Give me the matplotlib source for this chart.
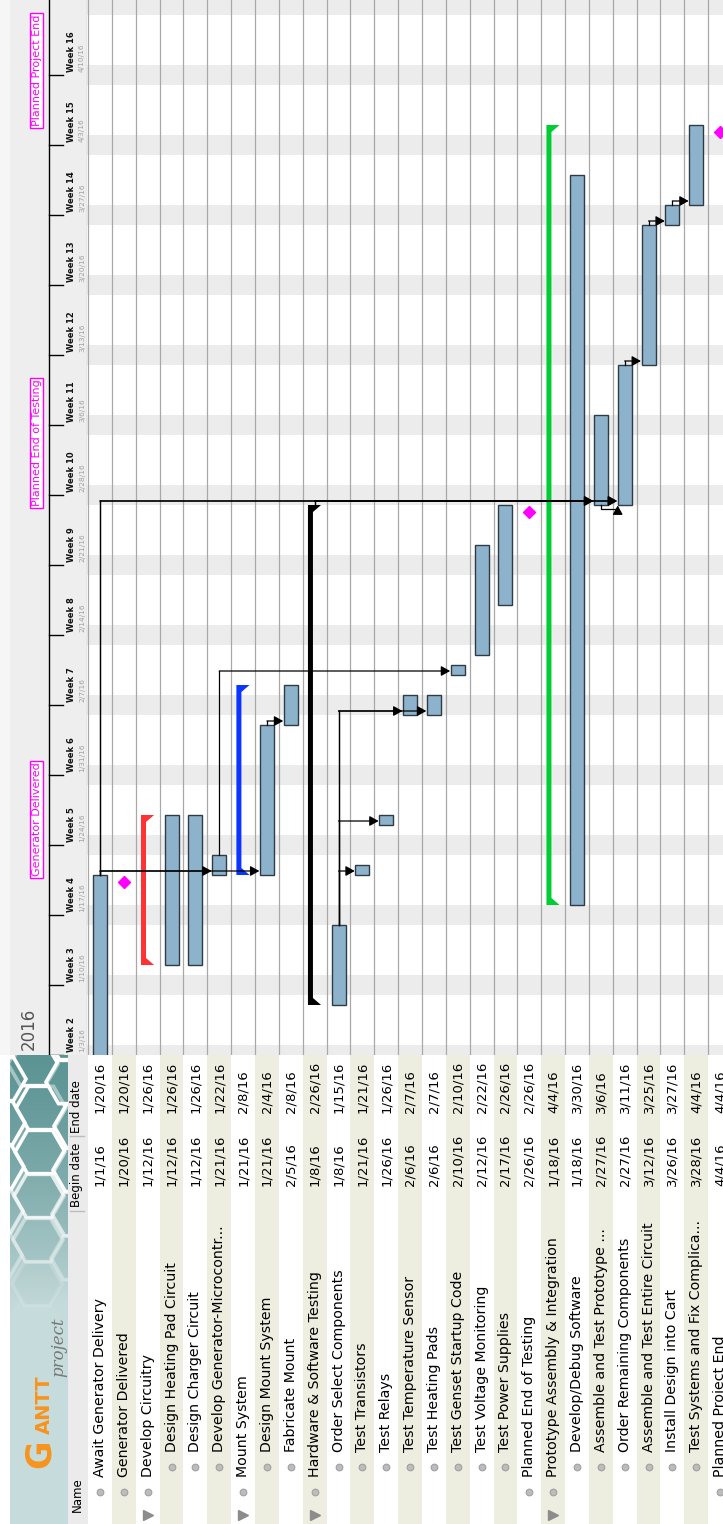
import matplotlib
matplotlib.use("Agg")
import matplotlib.pyplot as plt
import matplotlib.dates as mdates
from matplotlib.patches import Polygon, RegularPolygon
import numpy as np
from datetime import date, timedelta

# =========================
# DATA
# =========================
TASKS = ["Await Generator Delivery", "Generator Delivered", "Develop Circuitry",
         "Design Heating Pad Circuit", "Design Charger Circuit", "Develop Generator-Microcontr...",
         "Mount System", "Design Mount System", "Fabricate Mount", "Hardware & Software Testing",
         "Order Select Components", "Test Transistors", "Test Relays", "Test Temperature Sensor",
         "Test Heating Pads", "Test Genset Startup Code", "Test Voltage Monitoring",
         "Test Power Supplies", "Planned End of Testing", "Prototype Assembly & Integration",
         "Develop/Debug Software", "Assemble and Test Prototype ...", "Order Remaining Components",
         "Assemble and Test Entire Circuit", "Install Design into Cart",
         "Test Systems and Fix Complica...", "Planned Project End"]
BEGIN = ["1/1/16", "1/20/16", "1/12/16", "1/12/16", "1/12/16", "1/21/16", "1/21/16", "1/21/16",
         "2/5/16", "1/8/16", "1/8/16", "1/21/16", "1/26/16", "2/6/16", "2/6/16", "2/10/16",
         "2/12/16", "2/17/16", "2/26/16", "1/18/16", "1/18/16", "2/27/16", "2/27/16", "3/12/16",
         "3/26/16", "3/28/16", "4/4/16"]
END = ["1/20/16", "1/20/16", "1/26/16", "1/26/16", "1/26/16", "1/22/16", "2/8/16", "2/4/16",
       "2/8/16", "2/26/16", "1/15/16", "1/21/16", "1/26/16", "2/7/16", "2/7/16", "2/10/16",
       "2/22/16", "2/26/16", "2/26/16", "4/4/16", "3/30/16", "3/6/16", "3/11/16", "3/25/16",
       "3/27/16", "4/4/16", "4/4/16"]
INDENT = [0, 0, 0, 1, 1, 1, 0, 1, 1, 0, 1, 1, 1, 1, 1, 1, 1, 1, 0, 0, 1, 1, 1, 1, 1, 1, 0]
MILESTONES = [1, 18, 26]
SUMMARIES = {2: "#ff3333", 6: "#0a34ff", 9: "#000000", 19: "#00cc33"}
# finish -> start links (predecessor row, successor row)
LINKS = [(0, 5), (0, 7), (0, 21), (0, 22), (9, 21), (9, 22), (5, 15), (7, 8),
         (10, 11), (10, 12), (10, 13), (10, 14), (22, 23), (23, 24), (24, 25)]
# start -> start link
SS_LINKS = [(21, 22)]
WEEK_NUMS = list(range(2, 17))
WEEK_STARTS = ["1/3/16", "1/10/16", "1/17/16", "1/24/16", "1/31/16", "2/7/16", "2/14/16",
               "2/21/16", "2/28/16", "3/6/16", "3/13/16", "3/20/16", "3/27/16", "4/3/16", "4/10/16"]

BAR_COLOR = "#8db3cc"
MAGENTA = "#ff00ff"
ORANGE = "#f7941d"


def d2n(s):
    m, d, y = (int(v) for v in s.split("/"))
    return mdates.date2num(date(2000 + y, m, d))


begin = np.array([d2n(s) for s in BEGIN])
end = np.array([d2n(s) for s in END]) + 1  # end date is inclusive

# =========================
# LAYOUT (pixels of the 723x1524 picture)
# =========================
W, H = 723, 1524
ROW0, ROWH = 100, 23.85
SPLIT = 1055           # chart / table border
HEAD = 87              # timeline header width
t0 = d2n("1/3/16")
x_of = lambda px: (px - ROW0) / ROWH

fig = plt.figure(figsize=(W / 100, H / 100), dpi=100)
fig.patch.set_facecolor("white")

# ---------- chart ----------
ax = fig.add_axes([HEAD / W, 1 - SPLIT / H, (W - HEAD) / W, SPLIT / H])
ax.set_xlim(x_of(HEAD), x_of(W))
ax.set_ylim(t0, t0 + SPLIT / 10)
ax.axis("off")

# weekends
sat = date(2016, 1, 2)
while sat < date(2016, 4, 20):
    n = mdates.date2num(sat)
    ax.axhspan(n, n + 2, color="#ececec", lw=0, zorder=0)
    sat += timedelta(days=7)

for i in range(-1, len(TASKS)):
    ax.axvline(i + 0.5, color="#a8a8a8", lw=0.9, zorder=1)

rows = np.arange(len(TASKS))
plain = [i for i in rows if i not in MILESTONES and i not in SUMMARIES]
ax.bar(rows[plain], end[plain] - begin[plain], bottom=begin[plain], width=14 / ROWH,
       color=BAR_COLOR, edgecolor="#2e3b44", linewidth=1, zorder=3)

for i, col in SUMMARIES.items():
    l, r, f = i - 6.7 / ROWH, i - 1.7 / ROWH, i + 6.4 / ROWH
    b, e = begin[i], end[i]
    pts = [(l, e), (f, e), (r, e - 0.7), (r, b + 0.7), (f, b), (l, b)]
    ax.add_patch(Polygon(pts, closed=True, color=col, lw=0, zorder=3))

ax.plot(rows[MILESTONES], begin[MILESTONES] + 0.3, "D", ms=6.2, color=MAGENTA, zorder=5)

arrow = dict(arrowstyle="-|>,head_length=0.45,head_width=0.25", color="black", lw=0.9,
             shrinkA=0, shrinkB=0, mutation_scale=12)
for p, q in LINKS:
    e = end[p]
    ly = begin[q] + 0.4
    ax.plot([p, p], [e, ly], color="black", lw=0.9, zorder=4)
    ax.annotate("", xy=(q - 7.6 / ROWH, ly), xytext=(p, ly), arrowprops=arrow, zorder=4)
for p, q in SS_LINKS:
    ly = begin[p] - 0.35
    ax.plot([p, p, q - 7 / ROWH], [begin[p], ly, ly], color="black", lw=0.9, zorder=4)
    ax.annotate("", xy=(q - 7 / ROWH, begin[q] - 0.05), xytext=(q - 7 / ROWH, ly),
                arrowprops=arrow, zorder=4)

# ---------- timeline header ----------
hx = fig.add_axes([0, 1 - SPLIT / H, HEAD / W, SPLIT / H])
hx.set_xlim(0, HEAD)
hx.set_ylim(ax.get_ylim())
hx.set_facecolor("#eeeeee")
for s in hx.spines.values():
    s.set_visible(False)
hx.set_xticks([])
hx.set_yticks([])
hx.axvspan(0, 10, color="#f6f6f6", lw=0)
hx.axvline(49, color="black", lw=1)
hx.axvline(HEAD - 0.5, color="#c8c8c8", lw=1)
for num, ws in zip(WEEK_NUMS, WEEK_STARTS):
    n = d2n(ws)
    hx.plot([49, 63], [n, n], color="black", lw=1)
    hx.text(71, n + 0.3, f"Week {num}", rotation=90, ha="center", va="bottom",
            fontsize=6, fontweight="bold", color="#111111")
    hx.text(82, n + 0.3, ws, rotation=90, ha="center", va="bottom", fontsize=5.3,
            color="#a0a0a0")
for i in MILESTONES:
    hx.text(36.5, begin[i] + 0.9, TASKS[i], rotation=90, ha="center", va="bottom",
            fontsize=8, color=MAGENTA,
            bbox=dict(boxstyle="square,pad=0.15", fc="white", ec=MAGENTA, lw=1))
hx.text(28.5, t0 + 0.5, "2016", rotation=90, ha="center", va="bottom", fontsize=12,
        color="#555555")

# ---------- task table ----------
tx = fig.add_axes([0, 0, 1, (H - SPLIT) / H])
tx.set_xlim(x_of(0), x_of(W))
tx.set_ylim(H, SPLIT)
tx.axis("off")
for i in rows:
    if i % 2 == 1:
        tx.axvspan(i - 0.5, i + 0.5, color="#eeeee0", lw=0)
tx.axvspan(x_of(67), x_of(88), color="#ebebeb", lw=0)
tx.text(x_of(77), 1512, "Name", rotation=90, ha="center", va="bottom", fontsize=8.5)
tx.text(x_of(77), 1207, "Begin date", rotation=90, ha="center", va="bottom", fontsize=8.5)
tx.text(x_of(77), 1133, "End date", rotation=90, ha="center", va="bottom", fontsize=8.5)
for yy in (1211, 1136):
    tx.plot([x_of(70), x_of(84)], [yy, yy], color="#bdbdbd", lw=1)

for i in rows:
    ind = INDENT[i] * 25
    tx.plot(i, 1492 - ind, "o", ms=4.8, mfc="#bcbcbc", mec="#a0a0a0", mew=0.8)
    tx.text(i, 1477 - ind, TASKS[i], rotation=90, ha="center", va="bottom", fontsize=10.2)
    tx.text(i, 1186, BEGIN[i], rotation=90, ha="center", va="bottom", fontsize=9.5)
    tx.text(i, 1113, END[i], rotation=90, ha="center", va="bottom", fontsize=9.5)
    if i in SUMMARIES:
        tx.plot(i, 1515, ">", ms=6.5, color="#8c8c8c")

# ---------- logo ----------
LW_, LH_ = 58, H - SPLIT
lx = fig.add_axes([10 / W, 0, LW_ / W, LH_ / H])
lx.set_xlim(0, LW_)
lx.set_ylim(LH_, 0)
lx.axis("off")
yy_px = np.linspace(0, LH_, 300)
frac = np.clip(yy_px / 250, 0, 1)[:, None, None]
c_top, c_bot = np.array([0.36, 0.58, 0.58]), np.array([0.78, 0.86, 0.86])
img = c_top + (c_bot - c_top) * frac
lx.imshow(np.repeat(img, 2, axis=1), extent=(0, LW_, LH_, 0), aspect="auto", zorder=0)
for cy in np.arange(-20, 300, 44):
    for k, cx in enumerate(np.arange(-15, 90, 38)):
        yy = cy + (22 if k % 2 else 0) + (k * 7 % 11)
        a = min(1.0, max(0.0, 1 - yy / 250))
        lx.add_patch(RegularPolygon((cx + (yy % 9), yy), 6, radius=25, orientation=np.pi / 6,
                                    fc=(0.36, 0.58, 0.58, a * 0.6),
                                    ec=(1, 1, 1, min(1.0, a * 1.8)), lw=2.6, zorder=1))
lx.text(40, 413, "G", rotation=90, rotation_mode="anchor", ha="left", va="baseline",
        fontsize=25, fontweight="bold", color=ORANGE, zorder=3)
lx.text(40, 379, "ANTT", rotation=90, rotation_mode="anchor", ha="left", va="baseline",
        fontsize=14, fontweight="bold", color=ORANGE, zorder=3)
lx.text(53, 322, "project", rotation=90, rotation_mode="anchor", ha="left", va="baseline",
        fontsize=12, family="DejaVu Serif", style="italic", color="#777777", zorder=3)

fig.savefig("out.png", dpi=100)
